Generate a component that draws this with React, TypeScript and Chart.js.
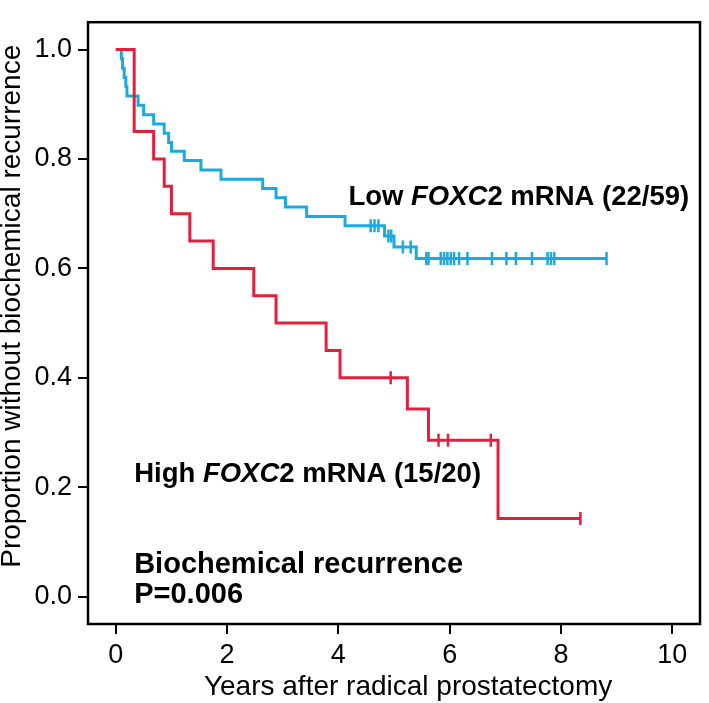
import React, { useEffect, useRef } from "react";
import { Chart, registerables } from "chart.js";

Chart.register(...registerables);

// ---- Data ----
const lowTimes = [0, 0.1, 0.12, 0.15, 0.18, 0.2, 0.4, 0.5, 0.68, 0.87, 0.95, 1.0, 1.23, 1.53, 1.89, 2.64, 2.88, 3.05, 3.43, 4.12, 4.83, 5.0, 5.4];
const lowSurv = [1, 0.983, 0.966, 0.949, 0.932, 0.915, 0.898, 0.881, 0.864, 0.847, 0.83, 0.814, 0.797, 0.78, 0.763, 0.746, 0.729, 0.712, 0.695, 0.678, 0.659, 0.639, 0.618];
const lowCensor = [4.58, 4.65, 4.72, 4.9, 4.95, 5.16, 5.3, 5.58, 5.62, 5.84, 5.9, 5.96, 6.02, 6.08, 6.17, 6.32, 6.76, 7.02, 7.19, 7.48, 7.76, 7.82, 7.88, 8.82];

const highTimes = [0, 0.33, 0.68, 0.87, 1.0, 1.33, 1.75, 2.48, 2.88, 3.78, 4.03, 5.24, 5.62, 6.87];
const highSurv = [1, 0.85, 0.8, 0.75, 0.7, 0.65, 0.6, 0.55, 0.5, 0.45, 0.4, 0.343, 0.286, 0.143];
const highCensor = [4.94, 5.8, 5.97, 6.74, 8.35];

const xTickValues = [0, 2, 4, 6, 8, 10];
const yTickValues = [0, 0.2, 0.4, 0.6, 0.8, 1.0];

const xTitle = "Years after radical prostatectomy";
const yTitle = "Proportion without biochemical recurrence";

const BLUE = "#1CA9DE";
const RED = "#E2203C";
const FONT = "'Liberation Sans', Arial, Helvetica, sans-serif";

function stepAt(times: number[], surv: number[], t: number) {
  let v = surv[0];
  for (let i = 0; i < times.length; i++) if (times[i] <= t) v = surv[i];
  return v;
}

function curvePoints(times: number[], surv: number[], censor: number[]) {
  const pts = times.map((t, i) => ({ x: t, y: surv[i] }));
  const end = Math.max(times[times.length - 1], ...censor);
  pts.push({ x: end, y: stepAt(times, surv, end) });
  return pts;
}

function censorPoints(times: number[], surv: number[], censor: number[]) {
  return censor.map((t) => ({ x: t, y: stepAt(times, surv, t) }));
}

type Part = { t: string; italic?: boolean };
const annotations: { x: number; y: number; size: number; parts: Part[] }[] = [
  { x: 4.18, y: 0.715, size: 27.5, parts: [{ t: "Low " }, { t: "FOXC", italic: true }, { t: "2 mRNA (22/59)" }] },
  { x: 0.33, y: 0.209, size: 27.5, parts: [{ t: "High " }, { t: "FOXC", italic: true }, { t: "2 mRNA (15/20)" }] },
  { x: 0.33, y: 0.044, size: 29, parts: [{ t: "Biochemical recurrence" }] },
  { x: 0.33, y: -0.012, size: 29, parts: [{ t: "P=0.006" }] },
];

const boxAndText = {
  id: "boxAndText",
  afterDatasetsDraw(chart: any) {
    const { ctx, chartArea, scales } = chart;
    ctx.save();
    ctx.strokeStyle = "#000";
    ctx.lineWidth = 2.5;
    ctx.strokeRect(chartArea.left, chartArea.top, chartArea.right - chartArea.left, chartArea.bottom - chartArea.top);
    ctx.fillStyle = "#000";
    ctx.textBaseline = "alphabetic";
    ctx.textAlign = "left";
    for (const a of annotations) {
      let px = scales.x.getPixelForValue(a.x);
      const py = scales.y.getPixelForValue(a.y);
      for (const p of a.parts) {
        ctx.font = `${p.italic ? "italic " : ""}bold ${a.size}px ${FONT}`;
        ctx.fillText(p.t, px, py);
        px += ctx.measureText(p.t).width;
      }
    }
    // axis titles
    ctx.font = `28px ${FONT}`;
    ctx.textAlign = "center";
    ctx.textBaseline = "middle";
    ctx.fillText(xTitle, chartArea.left + (chartArea.right - chartArea.left) * 0.523, 687);
    ctx.save();
    ctx.translate(12.5, chartArea.top + (chartArea.bottom - chartArea.top) * 0.472);
    ctx.rotate(-Math.PI / 2);
    ctx.fillText(yTitle, 0, 0);
    ctx.restore();
    ctx.restore();
  },
};

export default function App() {
  const ref = useRef<HTMLCanvasElement | null>(null);
  useEffect(() => {
    if (!ref.current) return;
    Chart.defaults.font.family = FONT;
    Chart.defaults.color = "#000";
    const chart = new Chart(ref.current, {
      type: "line",
      data: {
        datasets: [
          {
            type: "scatter",
            data: censorPoints(highTimes, highSurv, highCensor),
            showLine: false,
            pointStyle: "line",
            rotation: 90,
            pointRadius: 6.5,
            pointBorderWidth: 2.5,
            borderColor: RED,
            backgroundColor: RED,
          } as any,
          {
            data: curvePoints(highTimes, highSurv, highCensor),
            stepped: "before",
            borderColor: RED,
            borderWidth: 3,
            pointRadius: 0,
            fill: false,
          },
          {
            type: "scatter",
            data: censorPoints(lowTimes, lowSurv, lowCensor),
            showLine: false,
            pointStyle: "line",
            rotation: 90,
            pointRadius: 6.5,
            pointBorderWidth: 2.5,
            borderColor: BLUE,
            backgroundColor: BLUE,
          } as any,
          {
            data: curvePoints(lowTimes, lowSurv, lowCensor),
            stepped: "before",
            borderColor: BLUE,
            borderWidth: 3,
            pointRadius: 0,
            fill: false,
          },
        ],
      },
      options: {
        responsive: false,
        animation: false,
        events: [],
        layout: { padding: { top: 3, right: 4, left: 0, bottom: 0 } },
        plugins: { legend: { display: false }, tooltip: { enabled: false } },
        scales: {
          x: {
            type: "linear",
            min: -0.5,
            max: 10.5,
            afterBuildTicks: (s: any) => {
              s.ticks = xTickValues.map((v) => ({ value: v }));
            },
            afterFit: (s: any) => {
              s.height = 79;
            },
            border: { display: false },
            grid: { drawOnChartArea: false, drawTicks: true, tickLength: 10, color: "#000", lineWidth: 2 },
            ticks: { font: { size: 27 }, padding: 5, maxRotation: 0, autoSkip: false, color: "#000" },
            title: { display: false },
          },
          y: {
            type: "linear",
            min: -0.05,
            max: 1.05,
            afterBuildTicks: (s: any) => {
              s.ticks = yTickValues.map((v) => ({ value: v }));
            },
            afterFit: (s: any) => {
              s.width = 88;
            },
            border: { display: false },
            grid: { drawOnChartArea: false, drawTicks: true, tickLength: 10, color: "#000", lineWidth: 2 },
            ticks: {
              font: { size: 27 },
              padding: 6,
              autoSkip: false,
              color: "#000",
              callback: (v: any) => Number(v).toFixed(1),
            },
            title: { display: false },
          },
        },
      },
      plugins: [boxAndText],
    });
    return () => chart.destroy();
  }, []);
  return (
    <div style={{ position: "fixed", left: 0, top: 0, width: 709, height: 703, background: "#fff" }}>
      <canvas ref={ref} width={709} height={703} style={{ display: "block", width: 709, height: 703 }} />
    </div>
  );
}
